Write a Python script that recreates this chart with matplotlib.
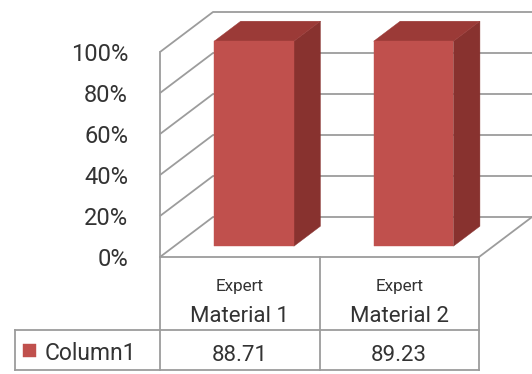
import numpy as np
import matplotlib
matplotlib.use('Agg')
import matplotlib.pyplot as plt
from matplotlib.patches import Polygon
from matplotlib.ticker import PercentFormatter

# ---- data ----
category_top = ["Expert", "Expert"]
categories = ["Material 1", "Material 2"]
series_name = "Column1"
values = [88.71, 89.23]
y_ticks = [0, 0.2, 0.4, 0.6, 0.8, 1.0]
y_max = 1.0

plt.rcParams['font.family'] = ['Roboto', 'DejaVu Sans']

W, H = 532, 374
fig = plt.figure(figsize=(W / 100, H / 100), dpi=100)
fig.patch.set_facecolor('white')

TXT = '#333333'

# front plane of the 3D box, in pixels
L, R, T, B = 160, 479, 52, 257
ax = fig.add_axes([L / W, 1 - B / H, (R - L) / W, (B - T) / H])
n = len(values)
ax.set_xlim(-0.5, n - 0.5)
ax.set_ylim(0, y_max)
for s in ax.spines.values():
    s.set_visible(False)
ax.set_xticks([])
ax.set_yticks(y_ticks)
ax.yaxis.set_major_formatter(PercentFormatter(1.0, decimals=0))
ax.tick_params(axis='y', length=0, pad=23, labelsize=17, labelcolor=TXT)
ax.patch.set_visible(False)

# depth projection (full depth = 53 px right, 40 px up)
DXp, DYp = 53, 40
kx = DXp / (R - L) * n
ky = DYp / (B - T) * y_max


def P(x, y, d):
    return (x + d * kx, y + d * ky)


GRID = '#9c9c9c'
LW = 1.3
xl, xr = -0.5, n - 0.5

for t in y_ticks:
    pts = [P(xl, t, 0), P(xl, t, 1), P(xr, t, 1)]
    ax.plot([p[0] for p in pts], [p[1] for p in pts], color=GRID, lw=LW,
            clip_on=False, zorder=1, solid_capstyle='butt')
# floor front and right edges, left wall front edge
for seg in ([P(xl, 0, 0), P(xr, 0, 0)], [P(xr, 0, 0), P(xr, 0, 1)],
            [P(xl, 0, 0), P(xl, y_max, 0)]):
    ax.plot([p[0] for p in seg], [p[1] for p in seg], color=GRID, lw=LW,
            clip_on=False, zorder=1)

# bars
d0, d1, w = 0.27, 0.77, 0.5
FRONT, SIDE, TOP = '#c0504d', '#88322f', '#9b3a37'
for i, v in enumerate(values):
    h = min(v, y_max)
    x0, x1 = i - w / 2, i + w / 2
    front = [P(x0, 0, d0), P(x1, 0, d0), P(x1, h, d0), P(x0, h, d0)]
    side = [P(x1, 0, d0), P(x1, 0, d1), P(x1, h, d1), P(x1, h, d0)]
    top = [P(x0, h, d0), P(x1, h, d0), P(x1, h, d1), P(x0, h, d1)]
    for poly, c in ((side, SIDE), (top, TOP), (front, FRONT)):
        ax.add_patch(Polygon(poly, closed=True, facecolor=c, edgecolor=c,
                             lw=0.3, clip_on=False, zorder=3))


# ---- data table (figure pixel layout) ----
def F(x, y):
    return (x / W, 1 - y / H)


def hline(y, x0, x1):
    a, b = F(x0, y), F(x1, y)
    fig.add_artist(plt.Line2D([a[0], b[0]], [a[1], b[1]], color=GRID, lw=LW))


def vline(x, y0, y1):
    a, b = F(x, y0), F(x, y1)
    fig.add_artist(plt.Line2D([a[0], b[0]], [a[1], b[1]], color=GRID, lw=LW))


col_w = (R - L) / n
left_cell = 15
row1, row2 = 330, 370
hline(row1, left_cell, R)
hline(row2, left_cell, R)
vline(left_cell, row1, row2)
vline(L, B, row2)
for i in range(1, n + 1):
    vline(L + i * col_w, B, row2)

for i in range(n):
    cx = L + (i + 0.5) * col_w
    fig.text(*F(cx, 291), category_top[i], ha='center', va='baseline',
             fontsize=12.3, color=TXT)
    fig.text(*F(cx, 322), categories[i], ha='center', va='baseline',
             fontsize=16, color=TXT)
    fig.text(*F(cx, 361), f"{values[i]:.2f}", ha='center', va='baseline',
             fontsize=16, color=TXT)

# legend key
sx0, sy0, ss = 23, 344, 13
kp = [F(sx0, sy0), F(sx0 + ss, sy0), F(sx0 + ss, sy0 + ss), F(sx0, sy0 + ss)]
fig.add_artist(Polygon(kp, closed=True, facecolor=FRONT, edgecolor=FRONT,
                       lw=0.3, transform=fig.transFigure))
fig.text(*F(45, 360), series_name, ha='left', va='baseline', fontsize=16.5,
         color=TXT)

fig.savefig('out.png', dpi=100, facecolor='white')
